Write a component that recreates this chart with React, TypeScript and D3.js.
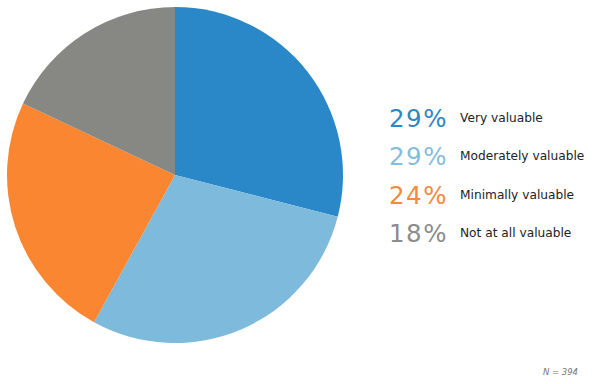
import React from "react";
import * as d3 from "d3";

const categories = ["Very valuable", "Moderately valuable", "Minimally valuable", "Not at all valuable"];
const values = [29, 29, 24, 18];
const colors = ["#2a88c8", "#7dbadb", "#fb8632", "#878783"];
const textColors = ["#2f86c1", "#86bcdb", "#f58a3c", "#8c8c8c"];
const note = "N = 394";

export default function App() {
  const W = 600, H = 384;
  const cx = 175, cy = 175, r = 168;
  const pie = d3.pie<number>().sort(null).value((d) => d)(values);
  const arc = d3.arc<d3.PieArcDatum<number>>().innerRadius(0).outerRadius(r);
  const yRow = d3.scalePoint<string>().domain(categories).range([127, 242]);
  return (
    <svg width={W} height={H} style={{ position: "absolute", left: 0, top: 0, background: "#fff" }}
      fontFamily="'DejaVu Sans', Verdana, sans-serif">
      <g transform={`translate(${cx},${cy})`}>
        {pie.map((p, i) => (
          <path key={i} d={arc(p) || ""} fill={colors[i]} />
        ))}
      </g>
      {categories.map((c, i) => (
        <g key={c}>
          <text x={389} y={yRow(c)} fontSize={24.5} fontWeight={400} fill={textColors[i]} letterSpacing={1.5}>
            {values[i]}%
          </text>
          <text x={460} y={(yRow(c) || 0) - 5} fontSize={12.2} fill="#222">
            {c}
          </text>
        </g>
      ))}
      <text x={578} y={375} fontSize={8.5} fontStyle="italic" fill="#777" textAnchor="end">{note}</text>
    </svg>
  );
}
